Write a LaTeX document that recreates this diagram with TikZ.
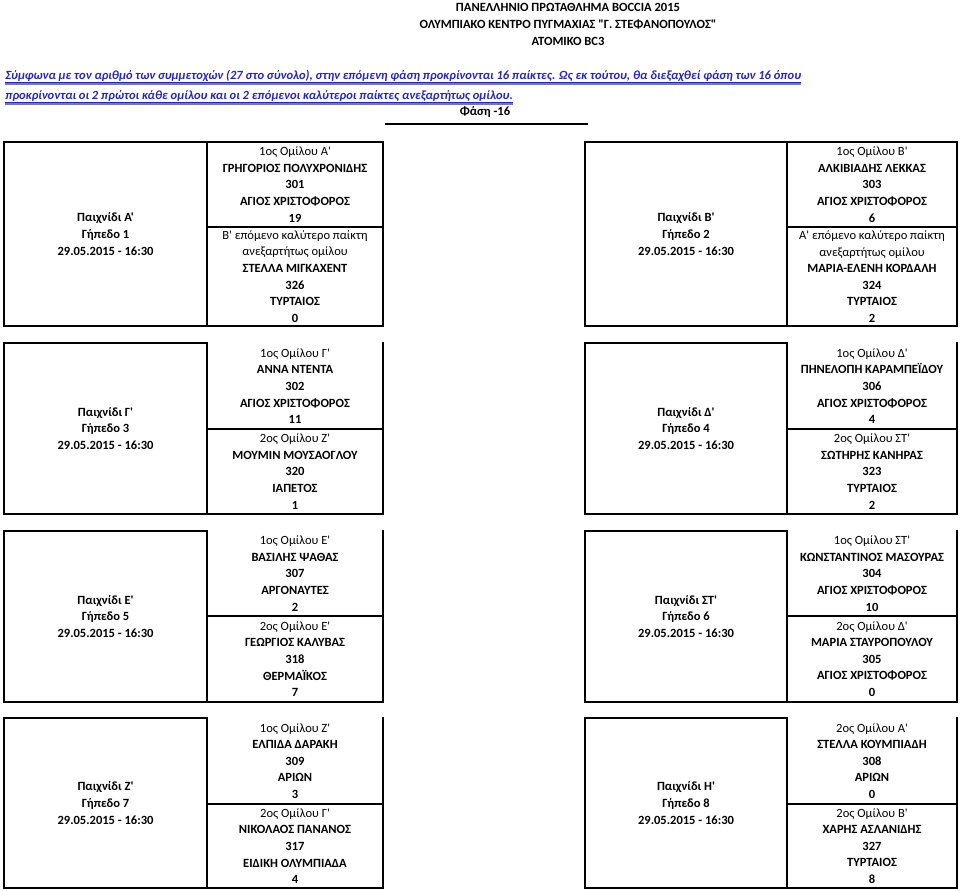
\documentclass[tikz,border=0pt]{standalone}
\usepackage{fontspec}
\setmainfont{Carlito}[Ligatures=TeXOff]
\usetikzlibrary{calc}
\definecolor{linkblue}{RGB}{36,36,196}
\definecolor{ulgray}{RGB}{120,120,170}
\tikzset{
  frame/.style={line width=1.8pt, line join=miter, line cap=rect},
  txt/.style={font=\fontsize{9.4}{12.45}\selectfont, align=center, inner sep=0pt},
  ttl/.style={font=\fontsize{9.4}{12.45}\selectfont\bfseries, inner sep=0pt},
  para/.style={font=\fontsize{9.4}{12.45}\selectfont\bfseries\itshape, text=linkblue, inner sep=0pt, anchor=base west},
}
% \game{name}{y0}{ydiv}{y1}{left text}{top text}{bottom text}{top border 1/0}
\newcommand\game[8]{%
  \node[txt] (#1-l) at ({(\xa+\xb)/2},{(#2+#4)/2}) {#5};
  \node[txt] (#1-t) at ({(\xb+\xc)/2},{(#2+#3)/2}) {#6};
  \node[txt] (#1-b) at ({(\xb+\xc)/2},{(#3+#4)/2}) {#7};
  \draw[frame] (\xa,#2) rectangle (\xb,#4);
  \draw[frame] (\xb,#3) -- (\xc,#3);
  \ifnum#8=1
    \draw[frame] (\xb,#2) -- (\xc,#2) -- (\xc,#4) -- (\xb,#4);
  \else
    \draw[frame] (\xc,#2) -- (\xc,#4) -- (\xb,#4);
  \fi
}
\newcommand\bl[1]{\textbf{#1}}
\begin{document}
\begin{tikzpicture}[x=0.75pt,y=-0.75pt]
\useasboundingbox[fill=white] (0,0) rectangle (960,891);

% header
\node[ttl] (t1) at (568,7) {ΠΑΝΕΛΛΗΝΙΟ ΠΡΩΤΑΘΛΗΜΑ BOCCIA 2015};
\node[ttl] (t2) at (568,24) {ΟΛΥΜΠΙΑΚΟ ΚΕΝΤΡΟ ΠΥΓΜΑΧΙΑΣ "Γ. ΣΤΕΦΑΝΟΠΟΥΛΟΣ"};
\node[ttl] (t3) at (568,41) {ΑΤΟΜΙΚΟ BC3};

\node[para] (p1) at (5,80) {Σύμφωνα με τον αριθμό των συμμετοχών (27 στο σύνολο), στην επόμενη φάση προκρίνονται 16 παίκτες. Ως εκ τούτου, θα διεξαχθεί φάση των 16 όπου};
\node[para] (p2) at (5,100) {προκρίνονται οι 2 πρώτοι κάθε ομίλου και οι 2 επόμενοι καλύτεροι παίκτες ανεξαρτήτως ομίλου.};
\foreach \p in {p1,p2}{
  \draw[ulgray, line width=0.9pt] ($(\p.base west)+(0,4)$) -- ($(\p.base east)+(0,4)$);
  \draw[linkblue, line width=0.9pt] ($(\p.base west)+(0,2.8)$) -- ($(\p.base east)+(0,2.8)$);
}

\node[ttl] (phase) at (485,112) {Φάση -16};
\coordinate (ulA) at (385,124);
\coordinate (ulB) at (588,124);
\draw[line width=2pt] (ulA) -- (ulB);

% left column games
\def\xa{4}\def\xb{207}\def\xc{383}
\game{gA}{142}{227}{326}
  {\bl{Παιχνίδι Α'}\\\bl{Γήπεδο 1}\\\bl{29.05.2015 - 16:30}}
  {1ος Ομίλου Α'\\\bl{ΓΡΗΓΟΡΙΟΣ ΠΟΛΥΧΡΟΝΙΔΗΣ}\\\bl{301}\\\bl{ΑΓΙΟΣ ΧΡΙΣΤΟΦΟΡΟΣ}\\\bl{19}}
  {Β' επόμενο καλύτερο παίκτη\\ανεξαρτήτως ομίλου\\\bl{ΣΤΕΛΛΑ ΜΙΓΚΑΧΕΝΤ}\\\bl{326}\\\bl{ΤΥΡΤΑΙΟΣ}\\\bl{0}}{1}
\game{gC}{343}{429}{514}
  {\bl{Παιχνίδι Γ'}\\\bl{Γήπεδο 3}\\\bl{29.05.2015 - 16:30}}
  {1ος Ομίλου Γ'\\\bl{ΑΝΝΑ ΝΤΕΝΤΑ}\\\bl{302}\\\bl{ΑΓΙΟΣ ΧΡΙΣΤΟΦΟΡΟΣ}\\\bl{11}}
  {2ος Ομίλου Ζ'\\\bl{ΜΟΥΜΙΝ ΜΟΥΣΑΟΓΛΟΥ}\\\bl{320}\\\bl{ΙΑΠΕΤΟΣ}\\\bl{1}}{0}
\game{gE}{531}{616}{702}
  {\bl{Παιχνίδι Ε'}\\\bl{Γήπεδο 5}\\\bl{29.05.2015 - 16:30}}
  {1ος Ομίλου Ε'\\\bl{ΒΑΣΙΛΗΣ ΨΑΘΑΣ}\\\bl{307}\\\bl{ΑΡΓΟΝΑΥΤΕΣ}\\\bl{2}}
  {2ος Ομίλου Ε'\\\bl{ΓΕΩΡΓΙΟΣ ΚΑΛΥΒΑΣ}\\\bl{318}\\\bl{ΘΕΡΜΑΪΚΟΣ}\\\bl{7}}{0}
\game{gZ}{718}{804}{888}
  {\bl{Παιχνίδι Ζ'}\\\bl{Γήπεδο 7}\\\bl{29.05.2015 - 16:30}}
  {1ος Ομίλου Ζ'\\\bl{ΕΛΠΙΔΑ ΔΑΡΑΚΗ}\\\bl{309}\\\bl{ΑΡΙΩΝ}\\\bl{3}}
  {2ος Ομίλου Γ'\\\bl{ΝΙΚΟΛΑΟΣ ΠΑΝΑΝΟΣ}\\\bl{317}\\\bl{ΕΙΔΙΚΗ ΟΛΥΜΠΙΑΔΑ}\\\bl{4}}{0}

% right column games
\def\xa{585}\def\xb{787}\def\xc{957}
\game{gB}{142}{227}{326}
  {\bl{Παιχνίδι Β'}\\\bl{Γήπεδο 2}\\\bl{29.05.2015 - 16:30}}
  {1ος Ομίλου Β'\\\bl{ΑΛΚΙΒΙΑΔΗΣ ΛΕΚΚΑΣ}\\\bl{303}\\\bl{ΑΓΙΟΣ ΧΡΙΣΤΟΦΟΡΟΣ}\\\bl{6}}
  {Α' επόμενο καλύτερο παίκτη\\ανεξαρτήτως ομίλου\\\bl{ΜΑΡΙΑ-ΕΛΕΝΗ ΚΟΡΔΑΛΗ}\\\bl{324}\\\bl{ΤΥΡΤΑΙΟΣ}\\\bl{2}}{1}
\game{gD}{343}{429}{514}
  {\bl{Παιχνίδι Δ'}\\\bl{Γήπεδο 4}\\\bl{29.05.2015 - 16:30}}
  {1ος Ομίλου Δ'\\\bl{ΠΗΝΕΛΟΠΗ ΚΑΡΑΜΠΕΪΔΟΥ}\\\bl{306}\\\bl{ΑΓΙΟΣ ΧΡΙΣΤΟΦΟΡΟΣ}\\\bl{4}}
  {2ος Ομίλου ΣΤ'\\\bl{ΣΩΤΗΡΗΣ ΚΑΝΗΡΑΣ}\\\bl{323}\\\bl{ΤΥΡΤΑΙΟΣ}\\\bl{2}}{0}
\game{gS}{531}{616}{702}
  {\bl{Παιχνίδι ΣΤ'}\\\bl{Γήπεδο 6}\\\bl{29.05.2015 - 16:30}}
  {1ος Ομίλου ΣΤ'\\\bl{ΚΩΝΣΤΑΝΤΙΝΟΣ ΜΑΣΟΥΡΑΣ}\\\bl{304}\\\bl{ΑΓΙΟΣ ΧΡΙΣΤΟΦΟΡΟΣ}\\\bl{10}}
  {2ος Ομίλου Δ'\\\bl{ΜΑΡΙΑ ΣΤΑΥΡΟΠΟΥΛΟΥ}\\\bl{305}\\\bl{ΑΓΙΟΣ ΧΡΙΣΤΟΦΟΡΟΣ}\\\bl{0}}{0}
\game{gH}{718}{804}{888}
  {\bl{Παιχνίδι Η'}\\\bl{Γήπεδο 8}\\\bl{29.05.2015 - 16:30}}
  {2ος Ομίλου Α'\\\bl{ΣΤΕΛΛΑ ΚΟΥΜΠΙΑΔΗ}\\\bl{308}\\\bl{ΑΡΙΩΝ}\\\bl{0}}
  {2ος Ομίλου Β'\\\bl{ΧΑΡΗΣ ΑΣΛΑΝΙΔΗΣ}\\\bl{327}\\\bl{ΤΥΡΤΑΙΟΣ}\\\bl{8}}{0}
\end{tikzpicture}
\end{document}
